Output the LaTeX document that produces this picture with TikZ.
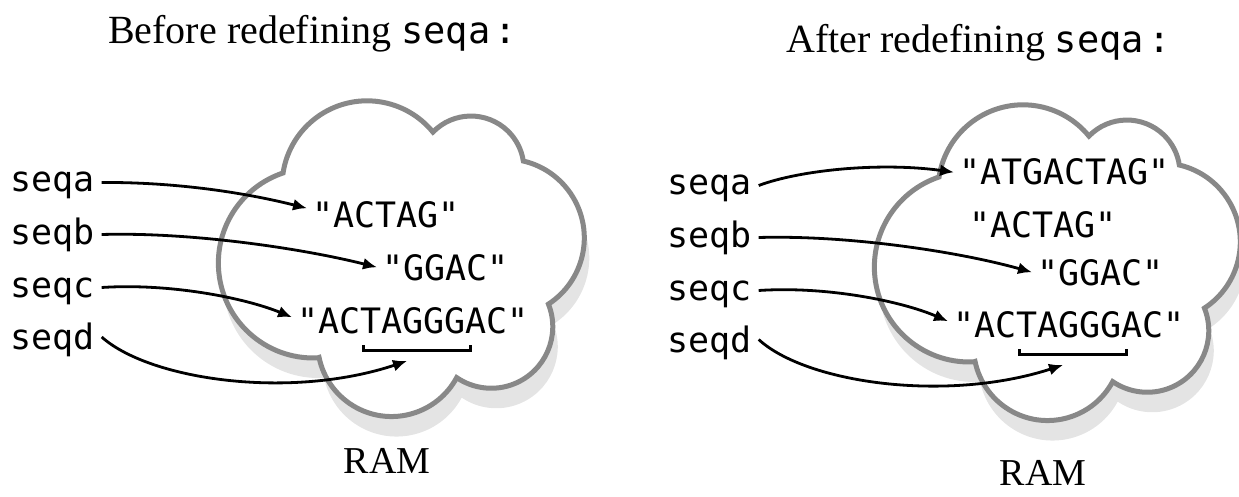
\documentclass[tikz,border=0pt]{standalone}
\usepackage{fontspec}
\setmainfont{Liberation Serif}
\newfontfamily\monof{DejaVu Sans Mono}
\usetikzlibrary{arrows.meta}
\definecolor{cloudline}{RGB}{136,136,136}
\definecolor{cloudshadow}{RGB}{228,228,228}
\tikzset{
  lbl/.style={font=\monof\fontsize{35}{40}\selectfont, inner xsep=7pt, inner ysep=0pt, text height=19pt, text depth=0pt, anchor=base west},
  str/.style={font=\monof\fontsize{35}{40}\selectfont, inner sep=5pt, text height=25.5pt, text depth=0pt, anchor=base west},
  ptr/.style={line width=2.8pt, -{Latex[length=14pt,width=12pt]}},
  brk/.style={line width=3pt},
  ttl/.style={font=\fontsize{40}{46}\selectfont, inner sep=0pt, anchor=base west},
  ram/.style={font=\fontsize{38}{44}\selectfont, inner sep=0pt, anchor=base},
  ramcloud/.pic={
    \fill[cloudshadow, shift={(5,20)}] (317.5,357.9)
      arc[start angle=87.5, end angle=251.4, radius=95]
      arc[start angle=188.7, end angle=320.8, radius=85]
      arc[start angle=224.2, end angle=351.3, radius=53]
      arc[start angle=283.2, end angle=416.9, radius=79]
      arc[start angle=-21.6, end angle=124.2, radius=61.5]
      arc[start angle=28.3, end angle=168.4, radius=74] -- cycle;
    \filldraw[fill=white, draw=cloudline, line width=5pt] (317.5,357.9)
      arc[start angle=87.5, end angle=251.4, radius=95]
      arc[start angle=188.7, end angle=320.8, radius=85]
      arc[start angle=224.2, end angle=351.3, radius=53]
      arc[start angle=283.2, end angle=416.9, radius=79]
      arc[start angle=-21.6, end angle=124.2, radius=61.5]
      arc[start angle=28.3, end angle=168.4, radius=74] -- cycle;
  }
}
\begin{document}
\begin{tikzpicture}[x=1pt,y=-1pt]
\useasboundingbox (0,0) rectangle (1239,497);
% clouds
\pic at (0,0) {ramcloud};
\pic at (656,4) {ramcloud};
% titles
\node[ttl] (t1) at (108,44) {Before redefining {\monof\fontsize{37}{42}\selectfont seqa\kern4pt:}};
\node[ttl] (t2) at (786,53) {After redefining {\monof\fontsize{37}{42}\selectfont seqa\kern4pt:}};
\node[ram] (r1) at (387,473) {RAM};
\node[ram] (r2) at (1043,485) {RAM};
% left panel
\node[lbl] (la) at (3,192) {seqa};
\node[lbl] (lb) at (3,244) {seqb};
\node[lbl] (lc) at (3,297) {seqc};
\node[lbl] (ld) at (3,349.5) {seqd};
\node[str] (sA) at (307,227) {"ACTAG"};
\node[str] (sG) at (377,280) {"GGAC"};
\node[str] (sC) at (292,333) {"ACTAGGGAC"};
\coordinate (dT) at ([shift={(115,28)}]sC.base west);
\draw[brk] ([shift={(71,12)}]sC.base west) |- ([shift={(178,17)}]sC.base west) -- ([shift={(178,12)}]sC.base west);
\draw[ptr] (la.east) .. controls (160,182) and (230,189) .. ([yshift=6pt]sA.west);
\draw[ptr] (lb.east) .. controls (190,232) and (300,248) .. (sG.west);
\draw[ptr] (lc.east) .. controls (170,283) and (245,298) .. ([yshift=3pt]sC.west);
\draw[ptr] ([yshift=3pt]ld.east) .. controls (150,380) and (290,400) .. (dT);
% right panel
\node[lbl] (ra) at (660,195) {seqa};
\node[lbl] (rb) at (660,247) {seqb};
\node[lbl] (rc) at (660,300) {seqc};
\node[lbl] (rd) at (660,352) {seqd};
\node[str] (tA) at (954,185) {"ATGACTAG"};
\node[str] (tB) at (964,237) {"ACTAG"};
\node[str] (tG) at (1032,285) {"GGAC"};
\node[str] (tC) at (948,337) {"ACTAGGGAC"};
\coordinate (dT2) at ([shift={(115,28)}]tC.base west);
\draw[brk] ([shift={(71,12)}]tC.base west) |- ([shift={(178,17)}]tC.base west) -- ([shift={(178,12)}]tC.base west);
\draw[ptr] (ra.east) .. controls (800,170) and (880,162) .. (tA.west);
\draw[ptr] (rb.east) .. controls (846,235) and (956,251) .. (tG.west);
\draw[ptr] (rc.east) .. controls (826,286) and (901,301) .. ([yshift=3pt]tC.west);
\draw[ptr] ([yshift=3pt]rd.east) .. controls (806,383) and (946,403) .. (dT2);
\end{tikzpicture}
\end{document}
